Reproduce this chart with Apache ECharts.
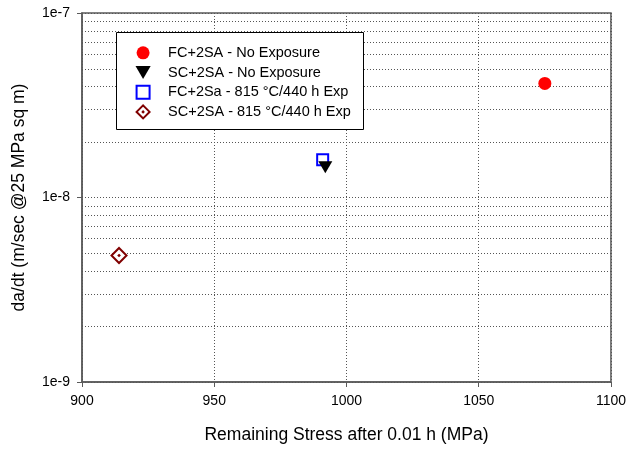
<!DOCTYPE html>
<html>
<head>
<meta charset="utf-8">
<style>
  html, body { margin: 0; padding: 0; background: #fff; }
  #chart { width: 629px; height: 449px; }
</style>
<script src="https://cdn.jsdelivr.net/npm/echarts@6/dist/echarts.min.js"></script>
</head>
<body>
<div id="chart"></div>
<script>
// Crack growth rate vs. remaining stress, one point per material condition
var seriesNames = [
  'FC+2SA - No Exposure',
  'SC+2SA - No Exposure',
  'FC+2Sa - 815 °C/440 h Exp',
  'SC+2SA - 815 °C/440 h Exp'
];
var fcNoExposure = [[1075, 4.15e-8]];
var scNoExposure = [[992, 1.46e-8]];
var fcExposed = [[991, 1.60e-8]];
var scExposed = [[914, 4.85e-9]];

// Axis ticks
var xTicks = [900, 950, 1000, 1050, 1100];
var yDecades = [1e-9, 1e-8, 1e-7];
// Intermediate log gridlines (2..9 within each decade)
var yMinorGrid = [2e-9, 3e-9, 4e-9, 5e-9, 6e-9, 7e-9, 8e-9, 9e-9,
                  2e-8, 3e-8, 4e-8, 5e-8, 6e-8, 7e-8, 8e-8, 9e-8];

var FONT = '"Liberation Sans", Arial, sans-serif';
var AXIS_COLOR = '#5a5a5a';
var DOT_LINE = { color: '#555', type: [1, 2], width: 1 };

// Hollow diamond; the tiny inner diamond's stroke becomes the centre dot
var DIAMOND_DOT = 'path://M7,0L14,7L7,14L0,7Z M7,6.6L7.4,7L7,7.4L6.6,7Z';
var TRIANGLE_DOWN = 'path://M0,0L14,0L7,12Z';
var SQUARE = 'path://M0,0L12,0L12,12L0,12Z';

var chart = echarts.init(document.getElementById('chart'), null, { renderer: 'canvas' });

chart.setOption({
  animation: false,
  backgroundColor: '#fff',
  textStyle: { fontFamily: FONT },
  grid: {
    left: 82, right: 17, top: 13, bottom: 64,
    show: true, borderColor: AXIS_COLOR, borderWidth: 1.5, backgroundColor: 'transparent'
  },
  xAxis: {
    type: 'value',
    min: xTicks[0],
    max: xTicks[xTicks.length - 1],
    interval: xTicks[1] - xTicks[0],
    name: 'Remaining Stress after 0.01 h (MPa)',
    nameLocation: 'middle',
    nameGap: 44,
    nameTextStyle: { fontSize: 17.5, color: '#000', fontFamily: FONT },
    axisLine: { show: true, lineStyle: { color: AXIS_COLOR, width: 1.5 } },
    axisTick: { show: true, inside: false, length: 5, lineStyle: { color: AXIS_COLOR, width: 1 } },
    axisLabel: {
      fontSize: 14, color: '#000', margin: 12, fontFamily: FONT,
      formatter: function (v) { return String(v); }
    },
    splitLine: { show: true, lineStyle: DOT_LINE }
  },
  yAxis: {
    type: 'log',
    logBase: 10,
    min: yDecades[0],
    max: yDecades[yDecades.length - 1],
    name: 'da/dt (m/sec @25 MPa sq m)',
    nameLocation: 'middle',
    nameGap: 54,
    nameTextStyle: { fontSize: 17.5, color: '#000', fontFamily: FONT },
    axisLine: { show: true, lineStyle: { color: AXIS_COLOR, width: 1.5 } },
    axisTick: { show: true, inside: false, length: 5, lineStyle: { color: AXIS_COLOR, width: 1 } },
    axisLabel: {
      fontSize: 14, color: '#000', margin: 12, fontFamily: FONT,
      formatter: function (v) { return '1e' + Math.round(Math.log10(v)); }
    },
    splitLine: { show: true, lineStyle: DOT_LINE }
  },
  legend: {
    orient: 'vertical',
    left: 135.5,
    top: 45.3,
    padding: 0,
    itemWidth: 40,
    itemHeight: 13,
    itemGap: 4.7,
    z: 5,
    textStyle: { fontSize: 14.5, color: '#000', fontFamily: FONT },
    data: [
      { name: seriesNames[0], icon: 'circle' },
      { name: seriesNames[1], icon: TRIANGLE_DOWN },
      { name: seriesNames[2], icon: SQUARE },
      { name: seriesNames[3], icon: DIAMOND_DOT }
    ]
  },
  graphic: [{
    type: 'rect',
    z: 4,
    silent: true,
    shape: { x: 116.5, y: 32.5, width: 247, height: 97 },
    style: { fill: '#fff', stroke: '#000', lineWidth: 1 }
  }],
  series: [
    {
      // dotted gridlines at the intermediate log values
      type: 'custom',
      silent: true,
      z: 1,
      legendHoverLink: false,
      data: yMinorGrid,
      encode: { y: 0 },
      renderItem: function (params, api) {
        var v = api.value(0);
        var p0 = api.coord([xTicks[0], v]);
        var p1 = api.coord([xTicks[xTicks.length - 1], v]);
        var y = Math.round(p0[1]) + 0.5;
        return {
          type: 'line',
          shape: { x1: p0[0], y1: y, x2: p1[0], y2: y },
          style: { stroke: DOT_LINE.color, lineWidth: 1, lineDash: [1, 2] }
        };
      }
    },
    {
      name: seriesNames[0],
      type: 'scatter',
      data: fcNoExposure,
      symbol: 'circle',
      symbolSize: 13,
      itemStyle: { color: '#ff0000', opacity: 1 },
      z: 3
    },
    {
      name: seriesNames[2],
      type: 'scatter',
      data: fcExposed,
      symbol: 'rect',
      symbolSize: 11,
      itemStyle: { color: 'rgba(0,0,0,0)', borderColor: '#0000ff', borderWidth: 2, opacity: 1 },
      z: 3
    },
    {
      name: seriesNames[1],
      type: 'scatter',
      data: scNoExposure,
      symbol: 'triangle',
      symbolRotate: 180,
      symbolSize: [14, 12],
      itemStyle: { color: '#000', opacity: 1 },
      z: 3
    },
    {
      name: seriesNames[3],
      type: 'scatter',
      data: scExposed,
      symbol: DIAMOND_DOT,
      symbolSize: 15,
      itemStyle: { color: '#fff', borderColor: '#800000', borderWidth: 2, opacity: 1 },
      z: 3
    }
  ]
});
</script>
</body>
</html>
